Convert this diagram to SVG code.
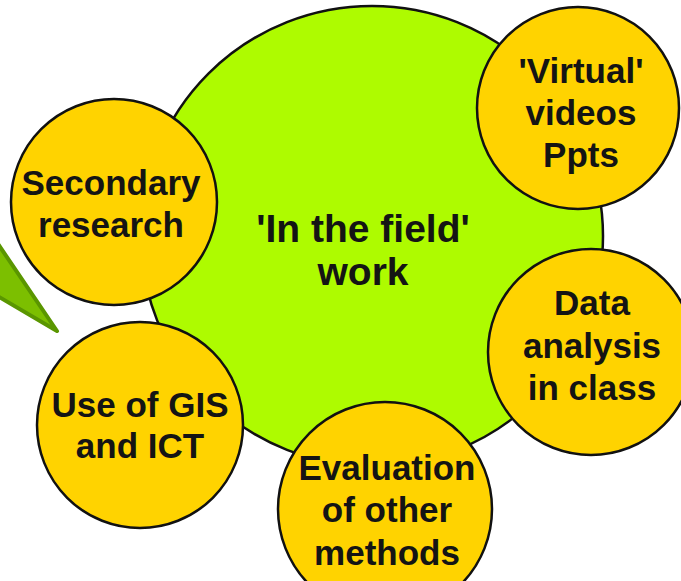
<svg xmlns="http://www.w3.org/2000/svg" width="681" height="581" viewBox="0 0 681 581">
  <style>
    .hub { fill: #aefb00; stroke: #111; stroke-width: 2.5; }
    .topic { fill: #ffd300; stroke: #111; stroke-width: 2.5; }
    .pointer { fill: #7cbf00; stroke: #5a9600; stroke-width: 4; stroke-linejoin: round; }
    text { font-family: "Liberation Sans", Arial, sans-serif; font-weight: bold; fill: #141414; text-anchor: middle; }
    .big { font-size: 39px; }
    .small { font-size: 35px; }
  </style>
  <rect width="681" height="581" fill="#ffffff"/>

  <!-- callout pointer coming in from the left edge -->
  <g id="pointer">
    <polygon class="pointer" points="-6,238 57,331 -6,294"/>
  </g>

  <!-- central hub -->
  <g id="hub">
    <ellipse class="hub" cx="372" cy="236" rx="231" ry="230"/>
    <text class="big" x="363" y="242">'In the field'</text>
    <text class="big" x="363" y="285">work</text>
  </g>

  <!-- surrounding topics -->
  <g id="secondary">
    <circle class="topic" cx="114" cy="202" r="103"/>
    <text class="small" x="111" y="195">Secondary</text>
    <text class="small" x="111" y="237">research</text>
  </g>

  <g id="virtual">
    <circle class="topic" cx="578" cy="108" r="101"/>
    <text class="small" x="581" y="83">'Virtual'</text>
    <text class="small" x="581" y="125">videos</text>
    <text class="small" x="581" y="167">Ppts</text>
  </g>

  <g id="data">
    <circle class="topic" cx="591" cy="352" r="103"/>
    <text class="small" x="592" y="315">Data</text>
    <text class="small" x="592" y="358">analysis</text>
    <text class="small" x="592" y="400">in class</text>
  </g>

  <g id="gis">
    <circle class="topic" cx="140" cy="425" r="103"/>
    <text class="small" x="140" y="417">Use of GIS</text>
    <text class="small" x="140" y="458">and ICT</text>
  </g>

  <g id="evaluation">
    <circle class="topic" cx="385" cy="509" r="107"/>
    <text class="small" x="387" y="480">Evaluation</text>
    <text class="small" x="387" y="522">of other</text>
    <text class="small" x="387" y="565">methods</text>
  </g>

  <g id="connectors"/>
</svg>
